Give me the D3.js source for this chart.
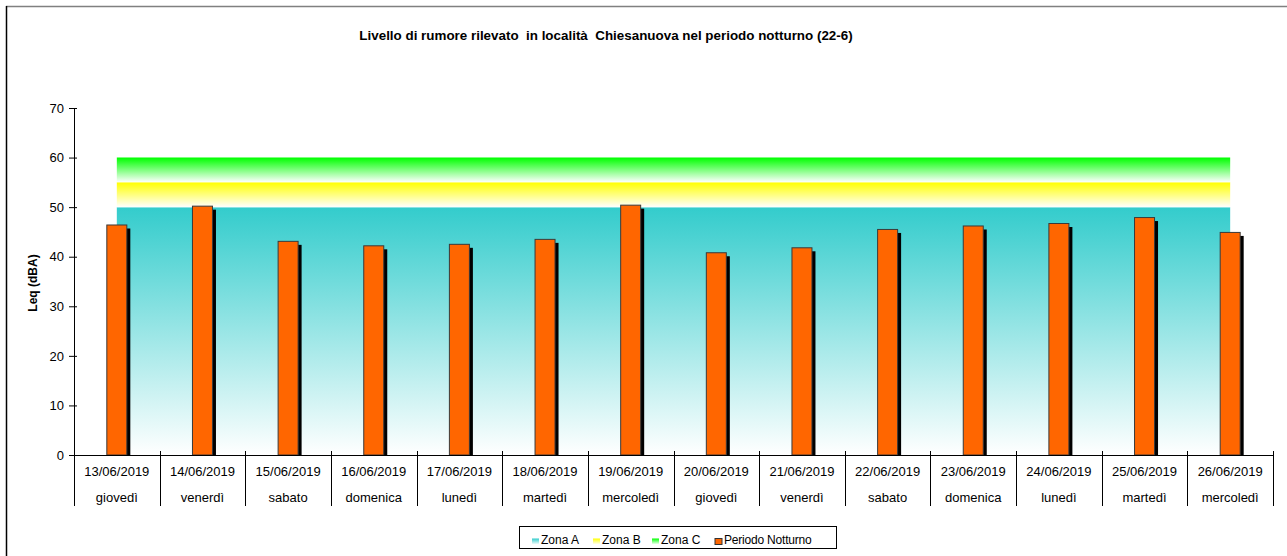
<!DOCTYPE html>
<html>
<head>
<meta charset="utf-8">
<script src="https://cdn.jsdelivr.net/npm/d3@7/dist/d3.min.js"></script>
<style>
  html, body { margin: 0; padding: 0; background: #fff; }
  svg { display: block; font-family: "Liberation Sans", Arial, sans-serif; }
</style>
</head>
<body>
<svg id="chart" width="1287" height="556"></svg>
<script>
const dates = ["13/06/2019","14/06/2019","15/06/2019","16/06/2019","17/06/2019","18/06/2019","19/06/2019","20/06/2019","21/06/2019","22/06/2019","23/06/2019","24/06/2019","25/06/2019","26/06/2019"];
const days = ["giovedì","venerdì","sabato","domenica","lunedì","martedì","mercoledì","giovedì","venerdì","sabato","domenica","lunedì","martedì","mercoledì"];
const periodoNotturno = [46.4, 50.2, 43.1, 42.2, 42.5, 43.5, 50.4, 40.8, 41.8, 45.5, 46.2, 46.7, 47.9, 44.9];
const zonaA = [50,50,50,50,50,50,50,50,50,50,50,50,50,50];
const zonaB = [5,5,5,5,5,5,5,5,5,5,5,5,5,5];
const zonaC = [5,5,5,5,5,5,5,5,5,5,5,5,5,5];
const yTicks = [0,10,20,30,40,50,60,70];
const title = "Livello di rumore rilevato  in località  Chiesanuova nel periodo notturno (22-6)";
const yLabel = "Leq (dBA)";
const legendNames = ["Zona A","Zona B","Zona C","Periodo Notturno"];

const svg = d3.select("#chart");
const pLeft = 74, pRight = 1273, pTop = 108, pBottom = 455;

const x = d3.scaleBand().domain(d3.range(dates.length)).range([pLeft, pRight]).paddingInner(0).paddingOuter(0);
const y = d3.scaleLinear().domain([0, 70]).range([pBottom, pTop]);
const cx = i => x(i) + x.bandwidth() / 2;

// border
svg.append("line").attr("x1", 6).attr("x2", 1287).attr("y1", 6.5).attr("y2", 6.5).attr("stroke", "#808080").attr("stroke-width", 1.5);
svg.append("line").attr("x1", 6.5).attr("x2", 6.5).attr("y1", 6).attr("y2", 556).attr("stroke", "#000").attr("stroke-width", 1.5);

const defs = svg.append("defs");
function grad(id, color, y1, y2, units) {
  const g = defs.append("linearGradient").attr("id", id).attr("x1", 0).attr("x2", 0);
  if (units) { g.attr("gradientUnits", "userSpaceOnUse").attr("y1", y1).attr("y2", y2); }
  else { g.attr("y1", 0).attr("y2", 1); }
  g.append("stop").attr("offset", "0%").attr("stop-color", color);
  g.append("stop").attr("offset", "100%").attr("stop-color", "#ffffff");
  return g;
}
// stacked zones
const stackA0 = zonaA.map(() => 0);
const stackA1 = zonaA.map(v => v);
const stackB1 = zonaA.map((v, i) => v + zonaB[i]);
const stackC1 = stackB1.map((v, i) => v + zonaC[i]);

grad("gA", "#33CCCC", y(50), y(0), true);
grad("gB", "#FFFF00", y(55), y(50), true);
grad("gC", "#00FF00", y(60), y(55), true);
grad("lgA", "#33CCCC");
grad("lgB", "#FFFF00");
grad("lgC", "#00FF00");

function zone(lo, hi, fill) {
  const area = d3.area().x((d, i) => cx(i)).y0((d, i) => y(lo[i])).y1((d, i) => y(hi[i]));
  svg.append("path").datum(hi).attr("d", area).attr("fill", fill);
}
zone(stackA0, stackA1, "url(#gA)");
zone(stackA1, stackB1, "url(#gB)");
zone(stackB1, stackC1, "url(#gC)");

// bars with shadow
const bw = 20;
const bars = svg.append("g");
bars.selectAll("rect.sh").data(periodoNotturno).join("rect")
  .attr("class", "sh")
  .attr("x", (d, i) => cx(i) - bw / 2 + 3.5)
  .attr("y", d => y(d) + 3.5)
  .attr("width", bw)
  .attr("height", d => pBottom - y(d) - 3.5)
  .attr("fill", "#000");
bars.selectAll("rect.bar").data(periodoNotturno).join("rect")
  .attr("class", "bar")
  .attr("x", (d, i) => cx(i) - bw / 2)
  .attr("y", d => y(d))
  .attr("width", bw)
  .attr("height", d => pBottom - y(d))
  .attr("fill", "#FF6600")
  .attr("stroke", "#3a3a3a")
  .attr("stroke-width", 1);

// y axis
const yAxis = d3.axisLeft(y).tickValues(yTicks).tickSize(5).tickPadding(5);
const yg = svg.append("g").attr("transform", `translate(${pLeft},0)`).call(yAxis);
yg.select(".domain").attr("stroke", "#000").attr("d", `M0.5,${pTop}V${pBottom}`);
yg.selectAll(".tick line").attr("stroke", "#000").attr("x1", 3);
yg.selectAll(".tick text").attr("font-size", 13).attr("fill", "#000").attr("font-family", "'Liberation Sans', Arial, sans-serif");

// x axis
svg.append("line").attr("x1", pLeft).attr("x2", pRight).attr("y1", pBottom + 0.5).attr("y2", pBottom + 0.5).attr("stroke", "#000");
const seps = d3.range(dates.length + 1).map(i => i < dates.length ? x(i) : pRight);
svg.append("g").selectAll("line").data(seps).join("line")
  .attr("x1", d => Math.round(d) + 0.5).attr("x2", d => Math.round(d) + 0.5)
  .attr("y1", (d, i) => i === 0 ? pBottom : pBottom - 4).attr("y2", 506)
  .attr("stroke", "#000");
svg.append("g").selectAll("text").data(dates).join("text")
  .attr("x", (d, i) => cx(i)).attr("y", 476)
  .attr("text-anchor", "middle").attr("font-size", 13).text(d => d);
svg.append("g").selectAll("text").data(days).join("text")
  .attr("x", (d, i) => cx(i)).attr("y", 502)
  .attr("text-anchor", "middle").attr("font-size", 13).text(d => d);

// title
svg.append("text").attr("x", 606).attr("y", 40).attr("text-anchor", "middle")
  .style("white-space", "pre")
  .attr("font-size", 13.4).attr("font-weight", "bold").text(title);

// y label
svg.append("text").attr("transform", "translate(37,283) rotate(-90)").attr("text-anchor", "middle")
  .attr("font-size", 12).attr("font-weight", "bold").text(yLabel);

// legend
const lg = svg.append("g");
lg.append("rect").attr("x", 519.5).attr("y", 526.5).attr("width", 317).attr("height", 22)
  .attr("fill", "#fff").attr("stroke", "#000");
const legendX = [532, 593, 652, 715];
const legendFill = ["url(#lgA)", "url(#lgB)", "url(#lgC)", "#FF6600"];
legendNames.forEach((n, i) => {
  lg.append("rect").attr("x", legendX[i]).attr("y", 538.5).attr("width", 7).attr("height", 6)
    .attr("fill", legendFill[i])
    .attr("stroke", i === 3 ? "#333" : "none");
  lg.append("text").attr("x", legendX[i] + 9).attr("y", 544).attr("font-size", 12)
    .attr("letter-spacing", i === 3 ? -0.2 : 0).text(n);
});
</script>
</body>
</html>
